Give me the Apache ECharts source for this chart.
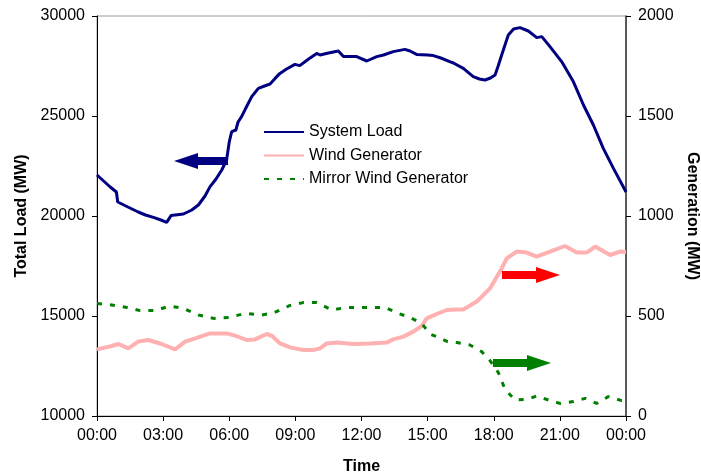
<!DOCTYPE html>
<html>
<head>
<meta charset="utf-8">
<script src="https://cdn.jsdelivr.net/npm/echarts@6/dist/echarts.min.js"></script>
<style>
html,body{margin:0;padding:0;background:#fff;}
#chart{width:701px;height:476px;}
</style>
</head>
<body>
<div id="chart"></div>
<script>
// ---- data ----
const xTickLabels = ['00:00','03:00','06:00','09:00','12:00','15:00','18:00','21:00','00:00'];
const seriesNames = ['System Load','Wind Generator','Mirror Wind Generator'];

const loadHours = [0,0.3,0.6,0.88,0.94,1.4,1.87,2.2,2.56,2.9,3.16,3.22,3.36,3.92,4.3,4.6,4.9,5.13,5.4,5.66,5.88,6.0,6.11,6.3,6.4,6.56,6.8,7.02,7.32,7.6,7.85,8.08,8.3,8.6,8.98,9.2,9.6,9.97,10.12,10.5,10.95,11.18,11.5,11.78,12.24,12.69,13.0,13.44,13.97,14.2,14.5,15.0,15.26,15.6,16.0,16.17,16.62,17.07,17.35,17.6,17.85,18.06,18.2,18.36,18.66,18.9,19.19,19.57,19.95,20.18,20.55,21.08,21.61,22.07,22.52,22.97,23.43,23.93,24];
const loadValues = [22050,21750,21450,21200,20700,20450,20200,20050,19930,19800,19680,19700,20020,20100,20300,20550,21000,21470,21850,22300,22800,23700,24220,24300,24700,24970,25500,25970,26380,26500,26600,26880,27130,27350,27580,27520,27850,28130,28050,28150,28250,27970,27980,27970,27750,27970,28050,28220,28330,28250,28080,28050,28020,27900,27720,27650,27380,26970,26850,26800,26900,27050,27500,28050,29050,29350,29420,29250,28920,28970,28470,27720,26720,25550,24550,23380,22380,21350,21200];

const windHours = [0,0.67,0.97,1.42,1.87,2.33,2.93,3.54,4.0,4.45,5.13,5.88,6.26,6.79,7.17,7.7,7.95,8.3,8.76,9.36,9.81,10.12,10.42,10.88,11.63,12.39,13.14,13.44,13.9,14.35,14.73,14.96,15.41,15.87,16.3,16.62,17.23,17.83,18.36,18.59,19.04,19.5,19.95,20.55,21.23,21.77,22.22,22.6,23.28,23.73,24];
const windValues = [333,350,360,338,372,380,360,333,372,388,413,413,402,380,383,410,400,363,343,330,330,338,363,367,360,363,367,383,397,422,450,488,510,530,532,533,572,638,738,788,822,817,797,822,850,817,817,847,805,822,820];

const mirrorHours = [0,0.67,1.35,1.95,2.63,3.31,3.92,4.6,5.28,6.03,6.71,7.47,8.0,8.76,9.36,9.97,10.65,11.33,11.93,12.46,13.07,13.67,14.2,14.73,15.11,15.49,15.9,16.32,16.92,17.45,17.83,18.21,18.51,18.97,19.5,19.95,20.48,21.0,21.61,22.14,22.67,23.2,23.8,24];
const mirrorValues = [563,555,543,527,527,550,538,505,488,493,513,505,515,553,567,567,530,543,543,543,543,513,493,463,410,393,372,367,355,322,277,217,133,80,83,100,80,63,72,88,63,97,77,75];

// ---- chart ----
const zip = (xs, ys) => xs.map((x, i) => [x, ys[i]]);
const FONT = '"Liberation Sans", Arial, sans-serif';
const chart = echarts.init(document.getElementById('chart'), null, {renderer: 'canvas'});

const arrow = (pts, color) => ({
  type: 'polygon', shape: {points: pts}, style: {fill: color}, z: 100
});
const plain = v => String(v);

chart.setOption({
  animation: false,
  backgroundColor: '#fff',
  textStyle: {fontFamily: FONT},
  grid: {left: 97, right: 75, top: 16, bottom: 60, show: true, borderColor: '#9a9a9a', borderWidth: 1,
    containLabel: false, outerBoundsMode: 'none'},
  legend: {
    orient: 'vertical', left: 258, top: 119,
    itemWidth: 40, itemHeight: 14, itemGap: 7.5,
    itemStyle: {opacity: 0},
    textStyle: {fontFamily: FONT, fontSize: 16, color: '#000'},
    data: seriesNames
  },
  xAxis: {
    type: 'value', min: 0, max: 24, interval: 3,
    name: 'Time', nameLocation: 'middle', nameGap: 43,
    nameTextStyle: {fontFamily: FONT, fontSize: 16, fontWeight: 'bold', color: '#000'},
    axisLine: {lineStyle: {color: '#000', width: 1}},
    axisTick: {show: true, length: 5, lineStyle: {color: '#000'}},
    axisLabel: {fontFamily: FONT, fontSize: 16, color: '#000', margin: 12,
      formatter: v => xTickLabels[Math.round(v / 3)]},
    splitLine: {show: false}
  },
  yAxis: [{
    type: 'value', min: 10000, max: 30000, interval: 5000, position: 'left',
    name: 'Total Load (MW)', nameLocation: 'middle', nameGap: 66,
    nameTextStyle: {fontFamily: FONT, fontSize: 16, fontWeight: 'bold', color: '#000'},
    axisLine: {show: true, lineStyle: {color: '#000', width: 1}},
    axisTick: {show: true, length: 5, lineStyle: {color: '#000'}},
    axisLabel: {fontFamily: FONT, fontSize: 16, color: '#000', margin: 12, formatter: plain},
    splitLine: {show: false}
  }, {
    type: 'value', min: 0, max: 2000, interval: 500, position: 'right',
    name: 'Generation (MW)', nameLocation: 'middle', nameGap: 56, nameRotate: -90,
    nameTextStyle: {fontFamily: FONT, fontSize: 16, fontWeight: 'bold', color: '#000'},
    axisLine: {show: true, lineStyle: {color: '#333', width: 1.5}},
    axisTick: {show: true, length: 5, lineStyle: {color: '#000'}},
    axisLabel: {fontFamily: FONT, fontSize: 16, color: '#000', margin: 12, formatter: plain},
    splitLine: {show: false}
  }],
  series: [{
    name: seriesNames[0], type: 'line', yAxisIndex: 0, symbol: 'none', smooth: false,
    data: zip(loadHours, loadValues),
    lineStyle: {color: '#000080', width: 3}, itemStyle: {color: '#000080'}, z: 5
  }, {
    name: seriesNames[1], type: 'line', yAxisIndex: 1, symbol: 'none', smooth: false,
    data: zip(windHours, windValues),
    lineStyle: {color: '#ffb0b0', width: 4}, itemStyle: {color: '#ffb0b0'}, z: 3
  }, {
    name: seriesNames[2], type: 'line', yAxisIndex: 1, symbol: 'none', smooth: false,
    data: zip(mirrorHours, mirrorValues),
    lineStyle: {color: '#008000', width: 3, type: [5, 8]}, itemStyle: {color: '#008000'}, z: 4
  }],
  graphic: [
    arrow([[174,161],[198,153],[198,157],[228,157],[228,165],[198,165],[198,169]], '#000080'),
    arrow([[502,271],[536,271],[536,267],[560,275],[536,283],[536,279],[502,279]], '#ff0000'),
    arrow([[493,359],[527,359],[527,355],[551,363],[527,371],[527,367],[493,367]], '#008000')
  ]
});
</script>
</body>
</html>
